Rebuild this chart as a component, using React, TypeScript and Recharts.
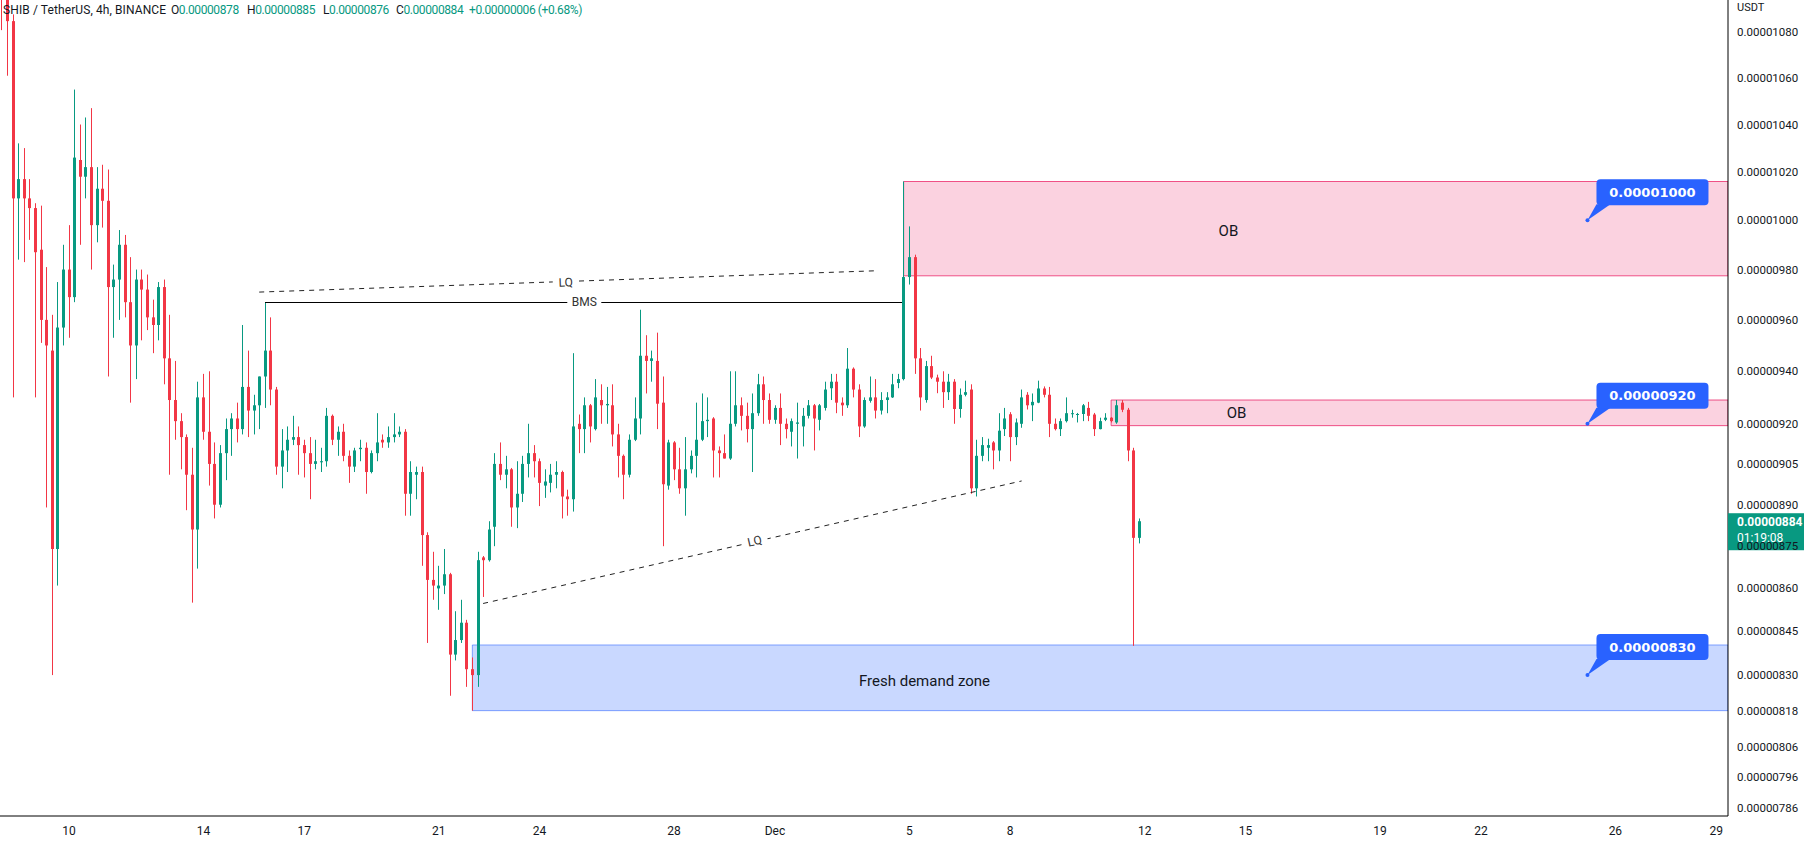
import React from "react";
import {
  ComposedChart,
  Bar,
  XAxis,
  YAxis,
  ReferenceArea,
  ReferenceLine,
  ReferenceDot,
} from "recharts";

// SHIB/USDT 4h candles, prices in 1e-8 USDT, first candle Nov 8 00:00 (one row = one day)
const opens = [
  1104, 1096, 1085, 1009, 1017, 1009,
  1005, 988, 960, 948, 874, 957,
  980, 969, 1025, 1018, 1022, 998,
  1013, 1008, 973, 976, 990, 967,
  950, 976, 972, 961, 958, 973,
  945, 929, 921, 915, 901, 881,
  930, 917, 905, 890, 909, 918,
  922, 918, 934, 925, 927, 938,
  948, 933, 904, 910, 914, 915,
  912, 909, 905, 905.6, 906, 923,
  914, 917, 908, 904, 910.5, 911,
  902, 909, 914, 913, 915, 916,
  917, 894, 901, 902, 879, 863,
  860, 861, 865, 837, 842, 848,
  832, 830, 871, 870, 882, 905,
  901, 903, 889, 894, 905, 909,
  906, 897, 898, 901, 902, 893,
  892, 920, 918, 927, 918, 929,
  927, 927, 916, 908, 901, 914,
  922, 946, 944, 944, 928, 897,
  913, 903, 896, 903, 908, 914,
  921, 922, 910, 909, 907, 920,
  927, 923, 918, 924, 935, 929,
  921.5, 926, 920, 917, 920, 919,
  923, 927, 921.5, 926, 933.5, 936,
  928, 927, 941, 933, 919, 928.7,
  930, 925, 929, 930, 935.5, 937,
  977, 985, 945, 929, 942, 937.6,
  936, 932, 936, 925.6, 931, 933,
  896, 908, 911, 913, 910, 918,
  923.6, 915, 920, 931, 927, 928,
  933.4, 931, 920, 918, 921, 923.8,
  923.5, 923.7, 926, 923.5, 918, 921.5,
  922.3, 920.5, 928, 925.3, 910, 878,
];

const highs = [
  1110, 1100, 1088, 1032, 1030, 1017,
  1007, 1006, 981, 962, 975, 990,
  998, 1055, 1040, 1043, 1047, 1022,
  1023, 1021, 982, 996, 994, 985,
  980, 980, 978, 968, 975, 976,
  962, 944, 924, 916, 911, 936,
  939, 940, 913, 912, 922, 924,
  928, 958, 948, 931, 938, 967,
  961, 934, 918, 919, 923, 919,
  914, 915, 914, 911, 926, 923.5,
  919, 920, 910, 911, 914, 913,
  910, 924, 916, 919, 924, 919,
  918, 906, 904, 904, 880, 873,
  868, 874, 865.5, 852, 856, 849,
  836, 873, 871.5, 884, 909, 913,
  908, 903.5, 906, 908, 920, 912,
  907, 903, 905, 906, 902.5, 895.5,
  947, 923.5, 930, 927.5, 937, 935,
  934, 935, 920, 908.5, 916, 930,
  964, 954, 948, 955, 938, 914,
  913.5, 911, 915, 910, 928, 931.5,
  930, 922.5, 911.5, 916, 940, 940,
  930, 928, 931.5, 939, 938, 931.5,
  927, 931.5, 922, 922, 928, 926,
  929, 927.5, 927.5, 936, 939, 939,
  930, 949, 941.5, 935, 930, 938,
  937, 932, 932, 939, 939, 1016,
  997.5, 986, 949, 944, 946, 938.7,
  940, 939, 937, 933.4, 936.4, 935,
  914, 915, 914.4, 913.5, 924, 926,
  924.4, 922, 933, 932, 931.5, 936.4,
  934.2, 934, 922, 922, 930, 925.3,
  924.1, 927.5, 928.3, 924.1, 922.3, 924,
  922.5, 929, 929, 926, 911, 885,
];

const lows = [
  1081, 1061, 930, 984, 983, 992,
  930, 951, 889, 830, 861, 950,
  953, 967, 990, 1009, 980, 991,
  997, 938, 953, 960, 961, 928,
  937, 952, 956, 947, 952, 935,
  901, 914, 903, 888, 855, 867,
  914, 897, 885, 889, 899, 908,
  913, 916, 915, 916, 918, 926,
  927, 901, 896, 902, 912, 901,
  900, 892, 903, 902, 904, 912,
  908, 906, 898, 902, 906, 894,
  901.5, 906, 911, 911, 913, 915,
  886, 886, 892, 868, 841, 856,
  852.5, 858, 823, 835, 841, 826,
  818, 826, 857, 869.5, 875, 899,
  896, 882, 881.5, 891, 900, 900,
  889.5, 892.5, 894.5, 896, 885, 886,
  887.5, 909, 909, 913, 917.5, 920,
  920, 911.5, 900, 892, 900, 913.5,
  916, 931.5, 936, 918, 875, 895.5,
  899, 894, 886, 901.5, 900, 913.5,
  915, 900, 900, 907, 906.5, 919,
  917.5, 913, 902, 923, 920, 920,
  920, 912, 914.5, 911.5, 907, 911.5,
  922, 910, 917.5, 925, 929, 924,
  923, 926, 930, 915, 918.5, 928,
  922, 923.5, 924, 929.8, 933.5, 936.5,
  974, 939, 925, 928, 937, 931.6,
  926, 929, 920, 922.3, 930.4, 894,
  893, 906, 906, 903, 906, 915.4,
  906, 912, 918.5, 925.4, 921, 927.8,
  930, 915, 917.5, 915.4, 920.5, 922.3,
  920.5, 921, 921, 915.4, 917.9, 921,
  920.5, 920, 924.4, 906, 840, 876,
];

const closes = [
  1096, 1085, 1009, 1017, 1009, 1005,
  987, 960, 950, 874, 957, 980,
  969, 1026, 1018, 1022, 998, 1013,
  1008, 973, 976, 990, 967, 950,
  976, 972, 961, 958, 973, 945,
  929, 921, 915, 901, 881, 930,
  917, 905, 890, 909, 918, 922,
  918, 934, 925, 927, 938, 948,
  933, 904, 910, 914, 915, 912,
  909, 905, 906, 906, 923, 914,
  917, 908, 904, 910, 911, 902,
  909, 913, 913, 915, 916, 917,
  894, 902, 902, 879, 863, 861,
  861, 865, 837, 842, 848, 832,
  830, 870, 870, 881, 905, 901,
  903, 889, 894, 905, 909, 906,
  898, 898.5, 901, 902, 893, 892,
  919, 918, 927, 919, 930, 927,
  927.5, 916, 908, 901, 914, 922,
  946, 944, 945, 927.6, 897.5, 913,
  903, 896, 903, 908, 914, 921,
  921.5, 910, 909, 907, 920, 927,
  923, 918, 924, 935, 929, 921.5,
  926, 920, 918, 921, 920.5, 923,
  927, 922, 927, 933, 936, 928,
  927, 941, 933, 919, 929, 930,
  925, 929, 930, 935, 937, 977,
  985, 945, 930, 942, 937.6, 936,
  932, 936, 925.6, 931, 932, 896,
  908, 912, 912, 910, 917.4, 922,
  915, 920.5, 930, 927, 928.3, 933.4,
  931, 920, 918, 921, 924, 924,
  923.7, 927, 923, 918, 921, 922.3,
  921, 927, 925.3, 910, 878, 884,
];

// x axis in days of November (31 = Dec 1)
const dayTicks = [10, 14, 17, 21, 24, 28, 31, 35, 38, 42, 45, 49, 52, 56, 59];
const priceTicks = [1080, 1060, 1040, 1020, 1000, 980, 960, 940, 920, 905, 890, 875, 860, 845, 830, 818, 806, 796, 786];

// drawn zones: [from day, to day, low price, high price]
const obUpper = [34.83, 59.35, 977.5, 1016];
const obLower = [41.0, 59.35, 919.3, 929];
const demandZone = [22.0, 59.35, 818, 840.3];

// drawn lines: [day, price] pairs
const lqUpper = [[15.66, 971], [33.97, 979.5]];
const bmsLine = [[15.83, 967], [34.79, 967]];
const lqLower = [[22.32, 854.7], [38.34, 898.7]];

// callout price tags
const callouts = [1000, 920, 830];
const calloutDay = 55.17;
const lastPrice = 884;

const GREEN = "#089981";
const RED = "#F23645";
const BLUE = "#2962FF";
const INK = "#131722";
const X_DOMAIN = [7.95, 59.35];
const Y_DOMAIN = [783.44, 1094.43];

const rows = opens.map((o, i) => ({
  t: 8 + i / 6,
  open: o,
  high: highs[i],
  low: lows[i],
  close: closes[i],
  range: [lows[i], highs[i]],
}));

const fmtPrice = (v: number) => (v / 1e8).toFixed(8);
const fmtDay = (d: number) => (d === 31 ? "Dec" : d > 31 ? String(d - 30) : String(d));

const Candle = (props: any) => {
  const { x, y, width, height, payload } = props;
  if (!payload) return null;
  const { open, high, low, close } = payload;
  const cx = Math.round(x + width / 2);
  const lh = Math.log(high);
  const ll = Math.log(low);
  // log axis: place open/close inside the high..low span in log space
  const py = (v: number) => (lh === ll ? y : y + (height * (lh - Math.log(v))) / (lh - ll));
  const color = close >= open ? GREEN : RED;
  const top = py(Math.max(open, close));
  const bot = py(Math.min(open, close));
  return (
    <g>
      <line x1={cx + 0.5} x2={cx + 0.5} y1={y} y2={y + height} stroke={color} strokeWidth={1} />
      <rect x={cx - 1} y={top} width={3} height={Math.max(1, bot - top)} fill={color} />
    </g>
  );
};

const lineTag = (text: string, angle: number, w: number) => (p: any) => (
  <g transform={`rotate(${angle} ${p.cx} ${p.cy})`}>
    <rect x={p.cx - w / 2} y={p.cy - 7} width={w} height={14} fill="#fff" />
    <text x={p.cx} y={p.cy} textAnchor="middle" dominantBaseline="central" fontSize={12} fill="#333">
      {text}
    </text>
  </g>
);

const zoneText = (text: string) => (p: any) => (
  <text x={p.cx} y={p.cy} textAnchor="middle" dominantBaseline="central" fontSize={15} fill={INK}>
    {text}
  </text>
);

const calloutShape = (price: number) => (p: any) => (
  <g>
    <path d={`M${p.cx},${p.cy} L${p.cx + 9},${p.cy - 16} L${p.cx + 23},${p.cy - 16} Z`} fill={BLUE} />
    <rect x={p.cx + 9} y={p.cy - 41} width={112} height={26} rx={4} fill={BLUE} />
    <circle cx={p.cx} cy={p.cy} r={2} fill={BLUE} />
    <text
      x={p.cx + 65}
      y={p.cy - 28}
      textAnchor="middle"
      dominantBaseline="central"
      fontSize={13}
      fontWeight="bold"
      fontFamily="'DejaVu Sans', sans-serif"
      fill="#fff"
    >
      {fmtPrice(price)}
    </text>
  </g>
);

const lastPriceTag = (p: any) => (
  <g>
    <rect x={p.cx} y={p.cy - 8} width={76} height={37} fill={GREEN} />
    <text x={p.cx + 9} y={p.cy + 1} dominantBaseline="central" fontSize={12} fontWeight="bold" fill="#fff">
      {fmtPrice(lastPrice)}
    </text>
    <text x={p.cx + 9} y={p.cy + 17} dominantBaseline="central" fontSize={12} fill="#fff">
      01:19:08
    </text>
  </g>
);

const legendSpans = [
  { left: 3, spacing: 0.1, parts: [["SHIB / TetherUS, 4h, BINANCE", INK]] },
  { left: 171, spacing: -0.4, parts: [["O", INK], ["0.00000878", GREEN]] },
  { left: 247, spacing: -0.4, parts: [["H", INK], ["0.00000885", GREEN]] },
  { left: 323, spacing: -0.4, parts: [["L", INK], ["0.00000876", GREEN]] },
  { left: 396, spacing: -0.4, parts: [["C", INK], ["0.00000884", GREEN]] },
  { left: 469, spacing: -0.4, parts: [["+0.00000006 (+0.68%)", GREEN]] },
];

export default function App() {
  return (
    <div
      style={{
        position: "absolute",
        left: 0,
        top: 0,
        width: 1804,
        height: 847,
        background: "#fff",
        overflow: "hidden",
        fontFamily: "Roboto, sans-serif",
      }}
    >
      <ComposedChart
        width={1804}
        height={847}
        data={rows}
        margin={{ top: 0, right: 0, bottom: 0, left: 0 }}
        style={{ fontFamily: "Roboto, sans-serif" }}
      >
        <XAxis
          dataKey="t"
          type="number"
          domain={X_DOMAIN}
          allowDataOverflow
          ticks={dayTicks}
          tickFormatter={fmtDay}
          height={31}
          tickLine={false}
          tickSize={0}
          tickMargin={10}
          axisLine={{ stroke: "#000" }}
          tick={{ fontSize: 12, fill: INK }}
        />
        <YAxis
          orientation="right"
          type="number"
          scale="log"
          domain={Y_DOMAIN}
          allowDataOverflow
          ticks={priceTicks}
          tickFormatter={fmtPrice}
          width={76}
          tickLine={false}
          tickSize={0}
          tickMargin={9}
          axisLine={{ stroke: "#000" }}
          tick={{ fontSize: 11.5, fill: INK, textAnchor: "start" }}
        />

        <ReferenceArea x1={obUpper[0]} x2={obUpper[1]} y1={obUpper[2]} y2={obUpper[3]}
          fill="rgba(233,30,99,0.2)" fillOpacity={1} stroke="rgba(233,30,99,0.75)" ifOverflow="hidden" />
        <ReferenceArea x1={obLower[0]} x2={obLower[1]} y1={obLower[2]} y2={obLower[3]}
          fill="rgba(233,30,99,0.2)" fillOpacity={1} stroke="rgba(233,30,99,0.75)" ifOverflow="hidden" />
        <ReferenceArea x1={demandZone[0]} x2={demandZone[1]} y1={demandZone[2]} y2={demandZone[3]}
          fill="rgba(41,98,255,0.25)" fillOpacity={1} stroke="rgba(41,98,255,0.55)" ifOverflow="hidden" />

        <ReferenceLine
          segment={lqUpper.map(([x, y]) => ({ x, y }))}
          stroke="#222"
          strokeDasharray="5 5"
        />
        <ReferenceLine segment={bmsLine.map(([x, y]) => ({ x, y }))} stroke="#000" shapeRendering="crispEdges" />
        <ReferenceLine
          segment={lqLower.map(([x, y]) => ({ x, y }))}
          stroke="#222"
          strokeDasharray="5 5"
        />

        <Bar dataKey="range" shape={<Candle />} barSize={3} isAnimationActive={false} />

        <ReferenceDot x={24.78} y={974.8} r={0} shape={lineTag("LQ", -2, 26)} ifOverflow="visible" />
        <ReferenceDot x={25.33} y={967} r={0} shape={lineTag("BMS", 0, 34)} ifOverflow="visible" />
        <ReferenceDot x={30.4} y={876.8} r={0} shape={lineTag("LQ", -12.7, 26)} ifOverflow="visible" />

        <ReferenceDot x={44.49} y={995.6} r={0} shape={zoneText("OB")} ifOverflow="visible" />
        <ReferenceDot x={44.73} y={924} r={0} shape={zoneText("OB")} ifOverflow="visible" />
        <ReferenceDot x={35.45} y={828} r={0} shape={zoneText("Fresh demand zone")} ifOverflow="visible" />

        {callouts.map((c) => (
          <ReferenceDot key={c} x={calloutDay} y={c} r={0} shape={calloutShape(c)} ifOverflow="visible" />
        ))}

        <ReferenceDot x={X_DOMAIN[1]} y={lastPrice} r={0} shape={lastPriceTag} ifOverflow="visible" />
      </ComposedChart>

      {legendSpans.map((s, i) => (
        <div
          key={i}
          style={{
            position: "absolute",
            left: s.left,
            top: 2,
            fontSize: 12,
            letterSpacing: `${s.spacing}px`,
            lineHeight: "16px",
            whiteSpace: "nowrap",
          }}
        >
          {s.parts.map(([txt, col], j) => (
            <span key={j} style={{ color: col }}>
              {txt}
            </span>
          ))}
        </div>
      ))}
      <div style={{ position: "absolute", left: 1737, top: 1, fontSize: 11, color: INK }}>USDT</div>
    </div>
  );
}
